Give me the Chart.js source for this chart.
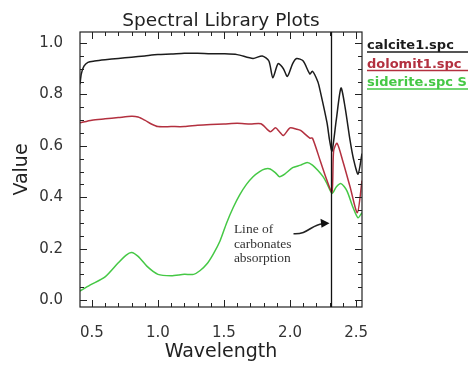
<!DOCTYPE html>
<html>
<head>
<meta charset="utf-8">
<title>Spectral Library Plots</title>
<script src="https://cdn.jsdelivr.net/npm/chart.js@4/dist/chart.umd.min.js"></script>
<style>
	html, body { margin: 0; padding: 0; background: #fff; }
	#chart-parent { width: 468px; height: 366px; }
</style>
</head>
<body>
<div id="chart-parent"><canvas id="chart" width="468" height="366"></canvas></div>
<script>
// spectra (wavelength in um, reflectance value)
var calciteWl = [0.41, 0.42, 0.44, 0.47, 0.52, 0.60, 0.70, 0.80, 0.90, 1.00, 1.10, 1.20, 1.30, 1.40, 1.50, 1.60, 1.72, 1.79, 1.84, 1.87, 1.91, 1.95, 1.98, 2.02, 2.05, 2.10, 2.15, 2.17, 2.21, 2.23, 2.28, 2.30, 2.318, 2.35, 2.386, 2.417, 2.455, 2.48, 2.515, 2.545];
var calciteVal = [0.84, 0.88, 0.91, 0.925, 0.93, 0.935, 0.94, 0.945, 0.95, 0.955, 0.957, 0.96, 0.96, 0.958, 0.958, 0.955, 0.94, 0.95, 0.93, 0.865, 0.92, 0.90, 0.87, 0.92, 0.94, 0.93, 0.88, 0.89, 0.85, 0.81, 0.69, 0.62, 0.58, 0.70, 0.825, 0.75, 0.62, 0.55, 0.49, 0.57];

var dolomiteWl = [0.41, 0.50, 0.60, 0.70, 0.80, 0.85, 0.90, 0.95, 1.00, 1.10, 1.20, 1.30, 1.40, 1.50, 1.60, 1.70, 1.78, 1.85, 1.89, 1.92, 1.95, 2.00, 2.05, 2.08, 2.15, 2.17, 2.23, 2.28, 2.318, 2.33, 2.356, 2.40, 2.455, 2.51, 2.545];
var dolomiteVal = [0.69, 0.70, 0.705, 0.71, 0.715, 0.712, 0.70, 0.685, 0.675, 0.675, 0.675, 0.68, 0.683, 0.685, 0.688, 0.685, 0.686, 0.655, 0.67, 0.655, 0.64, 0.67, 0.665, 0.66, 0.63, 0.63, 0.54, 0.465, 0.42, 0.58, 0.61, 0.54, 0.44, 0.34, 0.465];

var sideriteWl = [0.41, 0.485, 0.60, 0.70, 0.76, 0.80, 0.85, 0.92, 1.00, 1.10, 1.20, 1.27, 1.32, 1.37, 1.42, 1.47, 1.52, 1.57, 1.62, 1.67, 1.72, 1.77, 1.81, 1.85, 1.89, 1.92, 1.96, 2.02, 2.08, 2.13, 2.17, 2.21, 2.25, 2.28, 2.318, 2.35, 2.386, 2.43, 2.477, 2.515, 2.545];
var sideriteVal = [0.035, 0.058, 0.09, 0.145, 0.175, 0.185, 0.17, 0.13, 0.10, 0.095, 0.10, 0.10, 0.115, 0.14, 0.18, 0.23, 0.30, 0.36, 0.41, 0.45, 0.48, 0.50, 0.51, 0.51, 0.495, 0.48, 0.49, 0.515, 0.525, 0.535, 0.525, 0.505, 0.48, 0.453, 0.415, 0.44, 0.453, 0.426, 0.36, 0.32, 0.34];

var seriesNames = ['calcite1.spc', 'dolomit1.spc', 'siderite.spc S'];
var seriesColors = ['#1c1c1c', '#b3303f', '#45c845'];

var xTicks = [0.5, 1.0, 1.5, 2.0, 2.5];
var yTicks = [0.0, 0.2, 0.4, 0.6, 0.8, 1.0];
var carbonateLine = 2.31;
var annotationText = ['Line of', 'carbonates', 'absorption'];

function toPoints(wl, val) {
	var pts = [];
	for (var i = 0; i < wl.length; i++)
		pts.push({x: wl[i], y: val[i]});
	return pts;
}

function makeTicks(list) {
	return function(scale) {
		scale.ticks = list.map(function(v) { return {value: v}; });
	};
}

// frame with inward ticks, title, legend and the absorption marker
var framePlugin = {
	id: 'frame',
	afterDatasetsDraw: function(chart) {
		var ctx = chart.ctx;
		var a = chart.chartArea;
		var xs = chart.scales.x;
		var ys = chart.scales.y;
		var i, v, p, len;

		ctx.save();
		ctx.strokeStyle = '#222';
		ctx.lineWidth = 1.2;
		ctx.strokeRect(a.left, a.top, a.right - a.left, a.bottom - a.top);

		ctx.lineWidth = 1;
		ctx.beginPath();
		for (i = Math.ceil(xs.min * 10); i <= Math.floor(xs.max * 10); i++) {
			v = i / 10;
			p = Math.round(xs.getPixelForValue(v)) + 0.5;
			len = (i % 5 == 0) ? 7 : 4;
			ctx.moveTo(p, a.bottom); ctx.lineTo(p, a.bottom - len);
			ctx.moveTo(p, a.top); ctx.lineTo(p, a.top + len);
		}
		for (i = Math.ceil(ys.min * 20); i <= Math.floor(ys.max * 20); i++) {
			v = i / 20;
			p = Math.round(ys.getPixelForValue(v)) + 0.5;
			len = (i % 4 == 0) ? 7 : 4;
			ctx.moveTo(a.left, p); ctx.lineTo(a.left + len, p);
			ctx.moveTo(a.right, p); ctx.lineTo(a.right - len, p);
		}
		ctx.stroke();

		// line of carbonates absorption
		var lx = Math.round(xs.getPixelForValue(carbonateLine)) + 0.5;
		ctx.strokeStyle = '#111';
		ctx.lineWidth = 1.3;
		ctx.beginPath();
		ctx.moveTo(lx, a.top);
		ctx.lineTo(lx, a.bottom);
		ctx.stroke();

		var tx = xs.getPixelForValue(1.575);
		var ty = ys.getPixelForValue(0.26);
		ctx.fillStyle = '#333';
		ctx.font = '13.5px "Liberation Serif", "DejaVu Serif", serif';
		ctx.textAlign = 'left';
		ctx.textBaseline = 'alphabetic';
		for (i = 0; i < annotationText.length; i++)
			ctx.fillText(annotationText[i], tx, ty + i * 14.5);

		var tipY = ys.getPixelForValue(0.297);
		ctx.strokeStyle = '#222';
		ctx.lineWidth = 1.6;
		ctx.beginPath();
		ctx.moveTo(lx - 38, tipY + 10);
		ctx.bezierCurveTo(lx - 24, tipY + 11, lx - 20, tipY + 1, lx - 9, tipY);
		ctx.stroke();
		ctx.fillStyle = '#111';
		ctx.beginPath();
		ctx.moveTo(lx - 2, tipY - 0.5);
		ctx.lineTo(lx - 11, tipY - 5);
		ctx.lineTo(lx - 10, tipY + 4);
		ctx.closePath();
		ctx.fill();

		// title
		ctx.fillStyle = '#222';
		ctx.font = '18.5px "DejaVu Sans", sans-serif';
		ctx.textAlign = 'center';
		ctx.fillText('Spectral Library Plots', (a.left + a.right) / 2, 26);

		// legend: names with an underline in the series colour
		ctx.font = 'bold 13px "DejaVu Sans", sans-serif';
		ctx.textAlign = 'left';
		for (i = 0; i < seriesNames.length; i++) {
			var by = 49 + i * 18.5;
			ctx.fillStyle = seriesColors[i];
			ctx.fillText(seriesNames[i], a.right + 5, by);
			ctx.strokeStyle = seriesColors[i];
			ctx.lineWidth = 1.6;
			ctx.beginPath();
			ctx.moveTo(a.right + 5, by + 3);
			ctx.lineTo(chart.width, by + 3);
			ctx.stroke();
		}
		ctx.restore();
	}
};

function createChart() {
	var wls = [calciteWl, dolomiteWl, sideriteWl];
	var vals = [calciteVal, dolomiteVal, sideriteVal];
	var datasets = [];
	for (var i = 0; i < seriesNames.length; i++) {
		datasets.push({
			label: seriesNames[i],
			data: toPoints(wls[i], vals[i]),
			borderColor: seriesColors[i],
			borderWidth: 1.5,
			pointRadius: 0,
			tension: 0.25,
			fill: false
		});
	}

	new Chart(document.getElementById('chart'), {
		type: 'line',
		data: { datasets: datasets },
		plugins: [framePlugin],
		options: {
			responsive: false,
			animation: false,
			layout: { padding: { top: 32, right: 106, left: 0, bottom: 0 } },
			plugins: {
				legend: { display: false },
				tooltip: { enabled: false }
			},
			scales: {
				x: {
					type: 'linear',
					min: 0.41,
					max: 2.545,
					afterBuildTicks: makeTicks(xTicks),
					afterFit: function(scale) { scale.height = 59; },
					grid: { display: false },
					border: { display: false },
					ticks: {
						padding: 9,
						color: '#333',
						font: { family: 'DejaVu Sans', size: 15 },
						callback: function(v) { return v.toFixed(1); }
					},
					title: {
						display: true,
						text: 'Wavelength',
						color: '#222',
						font: { family: 'DejaVu Sans', size: 19 },
						padding: { top: 0, bottom: 3 }
					}
				},
				y: {
					min: -0.027,
					max: 1.043,
					afterBuildTicks: makeTicks(yTicks),
					afterFit: function(scale) { scale.width = 80; },
					grid: { display: false },
					border: { display: false },
					ticks: {
						padding: 9,
						color: '#333',
						font: { family: 'DejaVu Sans', size: 15 },
						callback: function(v) { return v.toFixed(1); }
					},
					title: {
						display: true,
						text: 'Value',
						color: '#222',
						font: { family: 'DejaVu Sans', size: 19 },
						padding: { top: 11, bottom: 0 }
					}
				}
			}
		}
	});
}

createChart();
</script>
</body>
</html>
